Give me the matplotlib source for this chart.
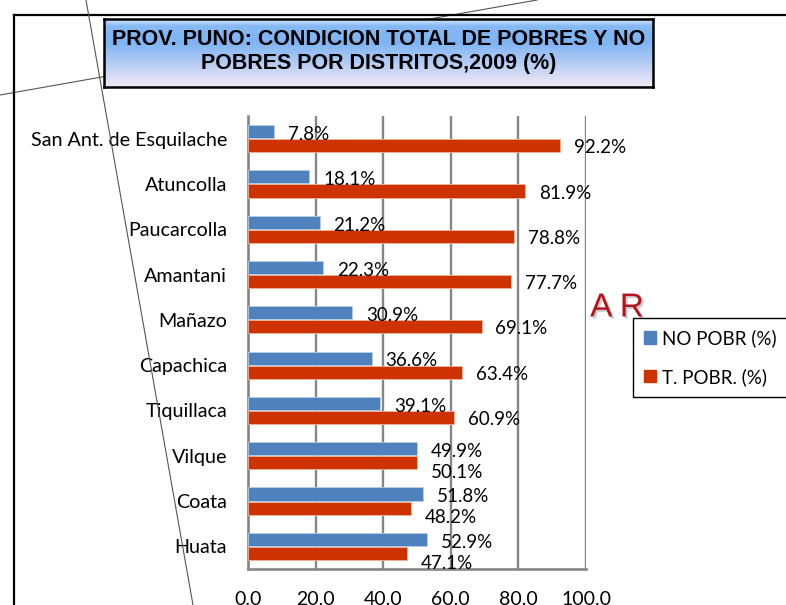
import numpy as np
import matplotlib.pyplot as plt
import matplotlib.patheffects as pe
from matplotlib.lines import Line2D
from matplotlib.patches import Patch
from matplotlib.colors import LinearSegmentedColormap

plt.rcParams['font.family'] = ['Lato', 'DejaVu Sans']

# data
districts = ['San Ant. de Esquilache', 'Atuncolla', 'Paucarcolla', 'Amantani', 'Mañazo',
             'Capachica', 'Tiquillaca', 'Vilque', 'Coata', 'Huata']
no_pobr = [7.8, 18.1, 21.2, 22.3, 30.9, 36.6, 39.1, 49.9, 51.8, 52.9]
t_pobr = [92.2, 81.9, 78.8, 77.7, 69.1, 63.4, 60.9, 50.1, 48.2, 47.1]
x_ticks = [0, 20, 40, 60, 80, 100]

BLUE = '#4F81BD'
RED = '#CC3300'

W, H = 786, 605
fig = plt.figure(figsize=(W / 100, H / 100), dpi=100)


def fx(px):
    return px / W


def fy(py):
    return 1 - py / H


# main bar axes
ax = fig.add_axes([fx(248), fy(569), fx(586) - fx(248), fy(116) - fy(569)])
y = np.arange(len(districts))
h = 0.29
ax.barh(y - 0.155, no_pobr, height=h, color=BLUE, edgecolor='#B9CDE5', linewidth=0.6, zorder=3)
ax.barh(y + 0.155, t_pobr, height=h, color=RED, edgecolor='#F2B49A', linewidth=0.6, zorder=3)

for i in range(len(districts)):
    ax.annotate(f'{no_pobr[i]:.1f}%', (no_pobr[i], y[i] - 0.155), xytext=(10, -2),
                textcoords='offset points', ha='left', va='center', fontsize=13.5)
    # Excel nudged the red labels down where both labels nearly collide
    dy = -7 if abs(no_pobr[i] - t_pobr[i]) < 10 else -1.5
    ax.annotate(f'{t_pobr[i]:.1f}%', (t_pobr[i], y[i] + 0.155), xytext=(10, dy),
                textcoords='offset points', ha='left', va='center', fontsize=13.5)

ax.set_xlim(0, 100)
ax.set_ylim(len(districts) - 0.5, -0.5)
ax.set_xticks(x_ticks)
ax.set_xticklabels([f'{t:.1f}' for t in x_ticks])
ax.set_yticks(y)
ax.set_yticklabels(districts)
ax.tick_params(axis='x', length=0, pad=16, labelsize=14)
ax.tick_params(axis='y', length=0, pad=15, labelsize=14.2)
ax.grid(axis='x', color='#868686', linewidth=1.7)
ax.set_axisbelow(True)
for s in ['top', 'right']:
    ax.spines[s].set_visible(False)
for s in ['left', 'bottom']:
    ax.spines[s].set_color('#868686')
    ax.spines[s].set_linewidth(1.9)

# title box with gradient fill
tax = fig.add_axes([fx(104), fy(87), fx(653) - fx(104), fy(19) - fy(87)])
cmap = LinearSegmentedColormap.from_list(
    'title', [(0, '#DCE9FA'), (0.1, '#86B9F4'), (0.35, '#7FB4F3'), (1, '#F3E9F5')])
tax.imshow(np.linspace(0, 1, 200)[:, None], aspect='auto', cmap=cmap, extent=[0, 1, 0, 1])
tax.set_xticks([])
tax.set_yticks([])
for s in tax.spines.values():
    s.set_linewidth(1.8)
    s.set_color('black')
tax.text(0.5, 0.52, 'PROV. PUNO: CONDICION TOTAL DE POBRES Y NO\nPOBRES POR DISTRITOS,2009 (%)',
         transform=tax.transAxes, ha='center', va='center', fontsize=15.5, fontweight='bold',
         family='Liberation Sans', linespacing=1.22)

# legend
handles = [Patch(color=BLUE, label='NO POBR (%)'), Patch(color=RED, label='T. POBR. (%)')]
leg = fig.legend(handles=handles, loc='upper left', bbox_to_anchor=(fx(633), fy(318)),
                 frameon=True, fancybox=False, edgecolor='black', framealpha=1,
                 handlelength=0.65, handleheight=0.65, handletextpad=0.3, labelspacing=1.1,
                 borderpad=0.6, borderaxespad=0, fontsize=13.5)
leg.get_frame().set_linewidth(1)

# stray text from the slide
fig.text(fx(617), fy(308), 'A R', color='#B5121B', fontsize=24, ha='center', va='center',
         family='Liberation Sans',
         path_effects=[pe.withSimplePatchShadow(offset=(1.5, -1.5), shadow_rgbFace='#999999', alpha=0.5)])

# chart border and slide lines
fig.add_artist(Line2D([fx(14), fx(786)], [fy(15), fy(15)], color='black', lw=1.6, zorder=1))
fig.add_artist(Line2D([fx(14), fx(14)], [fy(15), fy(605)], color='black', lw=1.6, zorder=1))
fig.add_artist(Line2D([fx(0), fx(537)], [fy(95), fy(0)], color='#555555', lw=0.8, zorder=-1))
fig.add_artist(Line2D([fx(86), fx(193)], [fy(0), fy(605)], color='#555555', lw=0.8, zorder=10))

fig.savefig('out.png', dpi=100)
